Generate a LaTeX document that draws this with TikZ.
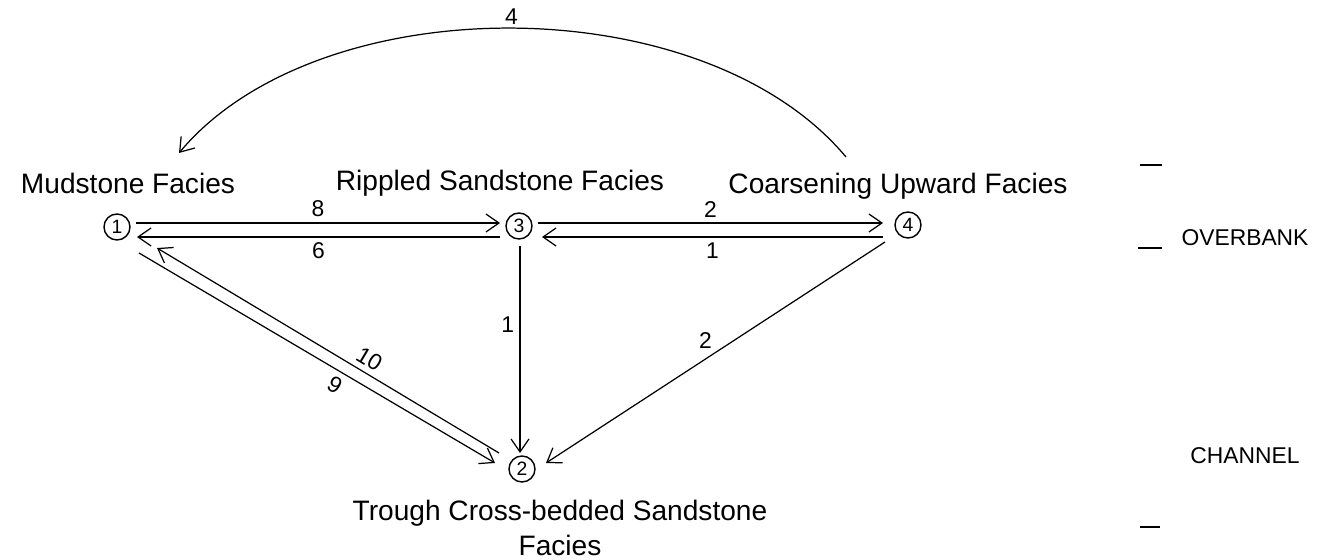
\documentclass[tikz,border=0pt]{standalone}
\usepackage{fontspec}
\setmainfont{Liberation Sans}
\usetikzlibrary{arrows.meta,positioning}

\tikzset{
  state/.style={draw, circle, line width=0.8pt, minimum size=0.52cm, inner sep=0pt,
    font=\fontsize{11}{13}\selectfont},
  arr/.style={line width=0.7pt, -{Straight Barb[length=2.6mm,width=3.6mm]}},
  lbl/.style={font=\fontsize{16}{20}\selectfont},
  env/.style={font=\fontsize{13}{15}\selectfont},
  num/.style={font=\fontsize{13}{15}\selectfont, inner sep=1pt},
  tick/.style={line width=1pt},
}

\begin{document}
\begin{tikzpicture}[x=0.02cm, y=-0.02cm]
\useasboundingbox (0,0) rectangle (1329,560);
  % facies (states)
  \node[state] at (117,227) (mud) {1};
  \node[state] at (519,226) (rip) {3};
  \node[state] at (908,225) (coa) {4};
  \node[state] at (522,469) (tro) {2};
  \node[lbl] at (128,183) (mudtxt) {Mudstone Facies};
  \node[lbl] at (500,183) (riptxt) {Rippled Sandstone Facies};
  \node[lbl] at (898,186) (coatxt) {Coarsening Upward Facies};
  \node[lbl, align=center] at (560,528) (trotxt) {Trough Cross-bedded Sandstone\\Facies};
  % environments on the right
  \node[env] at (1245,238) (over) {OVERBANK};
  \node[env] at (1245,456) (chan) {CHANNEL};
  \draw[tick] (1140,165) -- (1162,165);
  \draw[tick] (1138,248) -- (1162,248);
  \draw[tick] (1140,527) -- (1160,527);
  % transitions
  \draw[arr] ([shift={(19,-4)}]mud.center) -- ([shift={(-19,-3)}]rip.center) node[num, midway, above=2pt] {8};
  \draw[arr] ([shift={(-19,11)}]rip.center) -- ([shift={(20,10)}]mud.center) node[num, midway, below=2pt] {6};
  \draw[arr] ([shift={(19,-3)}]rip.center) -- ([shift={(-25,-2)}]coa.center) node[num, midway, above=2pt] {2};
  \draw[arr] ([shift={(-25,12)}]coa.center) -- ([shift={(23,11)}]rip.center) node[num, midway, below=2pt] {1};
  \draw[arr] ([shift={(1,20)}]rip.center) -- ([shift={(-2,-16)}]tro.center) node[num, pos=.38, left=2pt] {1};
  \draw[arr] ([shift={(-23,17)}]coa.center) -- ([shift={(24,-6)}]tro.center) node[num, midway, above left=1pt] {2};
  \draw[arr] ([shift={(-23,-16)}]tro.center) -- ([shift={(40,21)}]mud.center) node[num, pos=.40, sloped, above=2pt] {10};
  \draw[arr] ([shift={(22,26)}]mud.center) -- ([shift={(-27,-6)}]tro.center) node[num, pos=.57, sloped, below=2pt] {9};
  \draw[arr] ([shift={(-62,-68)}]coa.center) .. controls (703,-14) and (319,-14) .. ([shift={(62,-74)}]mud.center) node[num, pos=.5, above=1pt] {4};
\end{tikzpicture}
\end{document}
